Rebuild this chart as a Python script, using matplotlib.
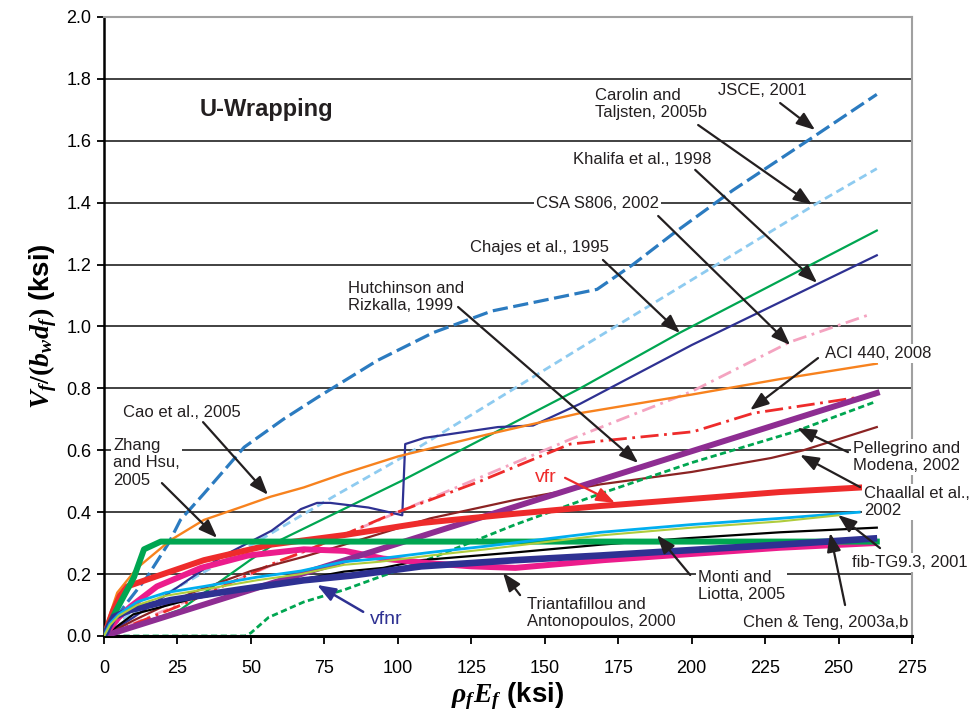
import matplotlib
matplotlib.use('Agg')
import matplotlib.pyplot as plt

plt.rcParams['font.family'] = ['Liberation Sans', 'DejaVu Sans']
plt.rcParams['mathtext.fontset'] = 'custom'
plt.rcParams['mathtext.it'] = 'Liberation Serif:italic:bold'
plt.rcParams['mathtext.rm'] = 'Liberation Serif:bold'
plt.rcParams['mathtext.bf'] = 'Liberation Serif:bold'
plt.rcParams['lines.scale_dashes'] = False

# curves: x = rho_f*E_f (ksi), y = Vf/(bw df) (ksi)
jsce_x = [0, 6.8, 14.6, 22, 26, 34, 47.7, 61, 72.5, 93, 112, 132, 157.6, 167.8, 180, 193.7, 214, 241, 263]
jsce_y = [0, 0.095, 0.19, 0.30, 0.375, 0.46, 0.61, 0.70, 0.77, 0.89, 0.98, 1.05, 1.10, 1.12, 1.20, 1.30, 1.44, 1.61, 1.75]

carolin_x = [0, 2, 10, 53, 78, 102, 162, 243, 263]
carolin_y = [0, 0.03, 0.075, 0.31, 0.45, 0.58, 0.93, 1.40, 1.51]

khalifa_x = [0, 10, 30, 40, 57, 67, 72.5, 77, 90, 97, 101.5, 102.5, 109, 134, 146, 162, 200, 263]
khalifa_y = [0, 0.06, 0.19, 0.256, 0.34, 0.41, 0.43, 0.43, 0.415, 0.40, 0.39, 0.62, 0.64, 0.675, 0.68, 0.75, 0.94, 1.23]

csa_x = [0, 60, 100, 158.6, 200, 233.5, 261]
csa_y = [0, 0.24, 0.40, 0.635, 0.79, 0.95, 1.04]

chajes_x = [0, 26, 49.7, 60, 101, 162, 196, 263]
chajes_y = [0, 0.085, 0.245, 0.31, 0.50, 0.80, 0.98, 1.31]

cao_x = [0, 0.6, 4.5, 11.3, 22.7, 34, 47.7, 56.7, 68, 81.7, 100, 130, 162, 200, 230, 263]
cao_y = [0, 0.03, 0.14, 0.22, 0.31, 0.375, 0.42, 0.45, 0.48, 0.525, 0.58, 0.65, 0.72, 0.78, 0.83, 0.88]

zhang_x = [0, 4, 10.2, 13.6, 19.3, 263]
zhang_y = [0, 0.08, 0.19, 0.28, 0.305, 0.305]

vfr_x = [0, 3, 5.4, 7.9, 17, 34, 56.7, 81.7, 108, 140, 169, 230, 258]
vfr_y = [0, 0.08, 0.13, 0.16, 0.19, 0.245, 0.295, 0.326, 0.365, 0.395, 0.42, 0.465, 0.48]

hutch_x = [0, 263]
hutch_y = [0, 0.785]

pell_x = [0, 48, 50, 56, 68, 82, 95, 111, 140, 169, 200, 235, 262]
pell_y = [0, 0, 0.01, 0.06, 0.11, 0.15, 0.195, 0.25, 0.36, 0.46, 0.56, 0.66, 0.755]

chaallal_x = [0, 10, 30, 50, 68, 80, 111, 140, 169, 200, 227, 238, 263]
chaallal_y = [0, 0.05, 0.14, 0.21, 0.256, 0.29, 0.38, 0.44, 0.49, 0.53, 0.575, 0.60, 0.675]

fib_x = [0, 2, 5, 11.3, 21, 34, 52, 67, 81.7, 94, 111, 130, 169, 200, 230, 257]
fib_y = [0, 0.04, 0.07, 0.11, 0.14, 0.16, 0.19, 0.21, 0.24, 0.25, 0.27, 0.29, 0.335, 0.36, 0.38, 0.40]

monti_x = [0, 2, 5, 11.3, 21, 34, 52, 67, 81.7, 94, 111, 130, 169, 200, 230, 250]
monti_y = [0, 0.035, 0.065, 0.10, 0.13, 0.15, 0.18, 0.20, 0.23, 0.24, 0.26, 0.28, 0.325, 0.35, 0.37, 0.39]

chen_x = [0, 10, 30, 60, 81.7, 95, 108, 140, 169, 197, 230, 263]
chen_y = [0, 0.07, 0.12, 0.17, 0.208, 0.22, 0.245, 0.27, 0.295, 0.315, 0.335, 0.35]

vfnr_x = [0, 3.4, 9, 22.7, 45.4, 68, 84, 108, 140, 169, 230, 262]
vfnr_y = [0, 0.062, 0.084, 0.116, 0.149, 0.18, 0.195, 0.225, 0.245, 0.26, 0.295, 0.315]

trian_x = [0, 5, 9, 18, 33, 49, 68, 82, 95, 111, 125, 140, 170, 230, 262]
trian_y = [0, 0.06, 0.095, 0.16, 0.22, 0.26, 0.28, 0.275, 0.25, 0.235, 0.225, 0.22, 0.245, 0.285, 0.30]

aci_x = [0, 25, 59, 70, 97, 128, 158.6, 200.5, 221, 263]
aci_y = [0, 0.095, 0.24, 0.28, 0.39, 0.50, 0.62, 0.66, 0.72, 0.78]

x_ticks = [0, 25, 50, 75, 100, 125, 150, 175, 200, 225, 250, 275]
y_ticks = [0.0, 0.2, 0.4, 0.6, 0.8, 1.0, 1.2, 1.4, 1.6, 1.8, 2.0]

fig = plt.figure(figsize=(9.74, 7.17), dpi=100)
ax = fig.add_axes([0.1068, 0.1130, 0.8296, 0.8633])

# thin / dashed curves first, thick ones on top
ax.plot(csa_x, csa_y, color='#f4a3c0', lw=2.0, dashes=(10, 4, 2, 4), zorder=2)
ax.plot(jsce_x, jsce_y, color='#2b7bc0', lw=2.3, dashes=(11, 4), zorder=2)
ax.plot(carolin_x, carolin_y, color='#8ecbf0', lw=2.0, dashes=(6, 3.5), zorder=2)
ax.plot(chajes_x, chajes_y, color='#00a651', lw=1.6, zorder=2)
ax.plot(khalifa_x, khalifa_y, color='#2e3192', lw=1.6, zorder=2)
ax.plot(cao_x, cao_y, color='#f7821e', lw=1.7, zorder=2)
ax.plot(aci_x, aci_y, color='#ee2b2b', lw=2.0, dashes=(13, 4, 2, 4), zorder=2)
ax.plot(chaallal_x, chaallal_y, color='#8b2323', lw=1.6, zorder=2)
ax.plot(pell_x, pell_y, color='#00a651', lw=2.0, dashes=(4.5, 2.5), zorder=2)
ax.plot(chen_x, chen_y, color='black', lw=1.6, zorder=2)
ax.plot(trian_x, trian_y, color='#ec1c8c', lw=4.3, zorder=3)
ax.plot(hutch_x, hutch_y, color='#8e2d92', lw=4.3, zorder=3)
ax.plot(vfr_x, vfr_y, color='#ee2b2b', lw=4.3, zorder=3)
ax.plot(zhang_x, zhang_y, color='#00a651', lw=4.3, zorder=3)
ax.plot(vfnr_x, vfnr_y, color='#2e3192', lw=4.8, zorder=3)
ax.plot(fib_x, fib_y, color='#00aeef', lw=2.0, zorder=3)
ax.plot(monti_x, monti_y, color='#b0cc3c', lw=1.5, zorder=3)

ax.set_xlim(0, 275)
ax.set_ylim(0, 2.0)
ax.set_xticks(x_ticks)
ax.set_yticks(y_ticks)
ax.set_yticklabels(['%.1f' % v for v in y_ticks])
ax.yaxis.grid(True, color='#333333', lw=1.3)
ax.set_axisbelow(True)
ax.tick_params(axis='y', direction='out', length=5, width=1.3, pad=4, labelsize=13)
ax.tick_params(axis='x', direction='out', length=6, width=1.3, pad=11, labelsize=13)
ax.spines['left'].set_linewidth(1.8)
ax.spines['bottom'].set_linewidth(2.2)
for s in ['top', 'right']:
    ax.spines[s].set_color('#a0a0a0')
    ax.spines[s].set_linewidth(1.5)

ax.set_ylabel(r'$V_f/(b_w d_f)$ (ksi)', fontsize=20, fontweight='bold', labelpad=5)
ax.set_xlabel(r'$\rho_f E_f$ (ksi)', fontsize=20, fontweight='bold', labelpad=3)

ax.text(32.7, 1.70, 'U-Wrapping', fontsize=17, fontweight='bold', color='#231f20',
        va='center', ha='left')

box = dict(facecolor='white', edgecolor='none', pad=1.5)
labels = [
    ('JSCE, 2001', 209.0, 1.764, (230.1, 1.722), (242.0, 1.635)),
    ('Carolin and\nTaljsten, 2005b', 167.1, 1.719, (202.2, 1.651), (241.0, 1.393)),
    ('Khalifa et al., 1998', 159.6, 1.541, (201.2, 1.506), (242.7, 1.141)),
    ('CSA S806, 2002', 147.0, 1.396, (188.6, 1.357), (233.5, 0.940)),
    ('Chajes et al., 1995', 124.6, 1.254, (169.8, 1.215), (196.0, 0.979)),
    ('Hutchinson and\nRizkalla, 1999', 83.0, 1.095, (120.5, 1.063), (181.8, 0.559)),
    ('ACI 440, 2008', 245.4, 0.914, (243.0, 0.898), (219.9, 0.730)),
    ('Pellegrino and\nModena, 2002', 254.9, 0.578, (253.2, 0.594), (235.9, 0.672)),
    ('Chaallal et al.,\n2002', 258.7, 0.433, (257.3, 0.481), (236.9, 0.585)),
    ('fib-TG9.3, 2001', 254.6, 0.236, (264.1, 0.284), (249.8, 0.391)),
    ('Chen & Teng, 2003a,b', 217.5, 0.045, (252.2, 0.100), (247.1, 0.333)),
    ('Monti and\nLiotta, 2005', 202.2, 0.162, (199.5, 0.197), (188.2, 0.326)),
    ('Triantafillou and\nAntonopoulos, 2000', 144.0, 0.074, (141.6, 0.132), (135.8, 0.204)),
    ('Cao et al., 2005', 6.5, 0.721, (33.7, 0.691), (55.8, 0.456)),
    ('Zhang\nand Hsu,\n2005', 3.1, 0.559, (19.7, 0.494), (38.5, 0.317)),
]
for txt, tx, ty, tail, tip in labels:
    ax.text(tx, ty, txt, fontsize=12, color='#231f20', ha='left', va='center',
            linespacing=1.2, bbox=box, zorder=6, clip_on=False)
    ax.annotate('', xy=tip, xytext=tail, zorder=7, annotation_clip=False,
                arrowprops=dict(arrowstyle='-|>,head_length=0.8,head_width=0.3',
                                color='#231f20', lw=1.6, mutation_scale=14,
                                shrinkA=0, shrinkB=0))

ax.text(90.5, 0.052, 'vfnr', fontsize=14, color='#2e3192', ha='left', va='center', zorder=6)
ax.annotate('', xy=(72.5, 0.165), xytext=(88.2, 0.078), zorder=7,
            arrowprops=dict(arrowstyle='-|>,head_length=0.8,head_width=0.3',
                            color='#2e3192', lw=1.8, mutation_scale=14, shrinkA=0, shrinkB=0))
ax.text(146.7, 0.511, 'vfr', fontsize=14, color='#ee2b2b', ha='left', va='center', zorder=6)
ax.annotate('', xy=(173.9, 0.430), xytext=(156.9, 0.511), zorder=7,
            arrowprops=dict(arrowstyle='-|>,head_length=0.8,head_width=0.3',
                            color='#ee2b2b', lw=1.6, mutation_scale=14, shrinkA=0, shrinkB=0))

fig.savefig('out.png', dpi=100)
